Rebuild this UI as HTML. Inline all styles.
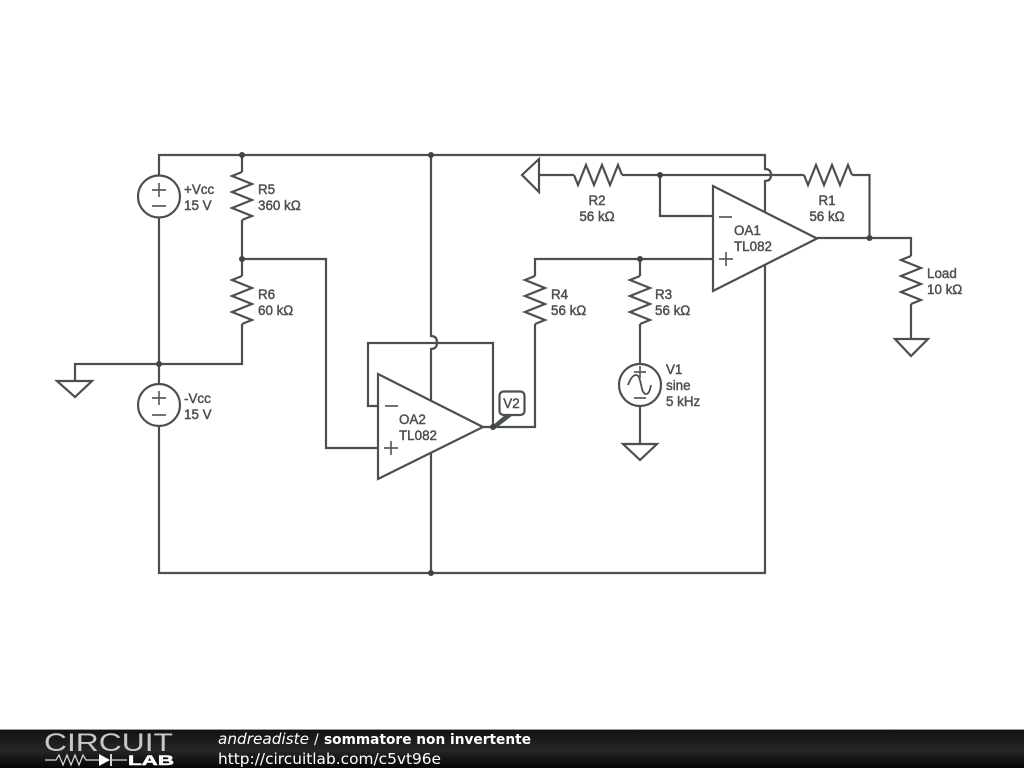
<!DOCTYPE html>
<html><head><meta charset="utf-8"><style>
html,body{margin:0;padding:0;background:#fff;width:1024px;height:768px;overflow:hidden}
svg{display:block}
.w{fill:none;stroke:#4a5050;stroke-width:2.200;stroke-linejoin:miter}
.s{fill:none;stroke:#556060;stroke-width:1.700}
.t{font-family:"Liberation Sans",sans-serif;font-size:13.400px;fill:#4a5050;stroke:#4a5050;stroke-width:.45}
.f{font-family:"DejaVu Sans",sans-serif;font-size:14px;fill:#fff}
</style></head><body>
<svg width="1024" height="768" viewBox="0 0 1024 768" xmlns="http://www.w3.org/2000/svg">
<defs><linearGradient id="g" x1="0" y1="0" x2="0" y2="1"><stop offset="0" stop-color="#111"/><stop offset=".55" stop-color="#262626"/><stop offset="1" stop-color="#050505"/></linearGradient></defs>
<rect width="1024" height="768" fill="#fff"/>
<g class="w">
<path d="M159 175V155H765V169Q771 169 771 175Q771 181 765 181V213M765 264V573H159V426"/>
<path d="M159 218V384M75 381V364H242V324M242 276V259H326V448H378M242 220V259M242 155V172"/>
<path d="M431 155V336Q437 336 437 342.500Q437 349 431 349V400M431 453V573"/>
<path d="M378 406H368V343H493V427M483 427H535V324M535 276V259H713M640 259V276M640 324V364M640 406V444"/>
<path d="M539 175H574M622 175H804M852 175H869.500V238M660 175V216H713M817 238H911V256M911 304V339"/>
<path d="M242 172L232 176L252 184L232 192L252 200L232 208L252 216L242 220"/>
<path d="M242 276L232 280L252 288L232 296L252 304L232 312L252 320L242 324"/>
<path d="M535 276L525 280L545 288L525 296L545 304L525 312L545 320L535 324"/>
<path d="M640 276L630 280L650 288L630 296L650 304L630 312L650 320L640 324"/>
<path d="M911 256L901 260L921 268L901 276L921 284L901 292L921 300L911 304"/>
<path d="M574 175L578 185L586 165L594 185L602 165L610 185L618 165L622 175"/>
<path d="M804 175L808 185L816 165L824 185L832 165L840 185L848 165L852 175"/>
<circle cx="159" cy="196.500" r="21" fill="#fff"/>
<circle cx="159" cy="405" r="21" fill="#fff"/>
<circle cx="640" cy="385" r="21" fill="#fff"/>
<path d="M378 374V479L483 427Z"/>
<path d="M713 186V291L817 238.500Z"/>
<path d="M57 381H92L75 397ZM623 444H657L640 460ZM895 339H928L911 356ZM539 159V192L522 175Z"/>
<path d="M628 385C631 377 634 375 636 375C642 375 640 394 646 394C649 394 650 390 651 385" stroke-width="1.800"/>
<rect x="499.500" y="391.500" width="25" height="23.500" rx="4" fill="#fff"/>
</g>
<path class="s" d="M159 183V197M152 190H166M152 206H166M159 391V405M152 398H166M152 415H166"/>
<path class="s" d="M385 406H398M391 441V455M384 448H398M719 217H732M726 252V266M719 259H733"/>
<path class="s" d="M634 372H646M640 366V378M634 398H646" stroke-width="1.300"/>
<path d="M492 426L505 415H513L495 429Z" fill="#4a5050"/>
<g fill="#3f4545">
<circle cx="242" cy="155" r="3"/><circle cx="431" cy="155" r="3"/><circle cx="242" cy="259" r="3"/>
<circle cx="159" cy="364" r="3"/><circle cx="431" cy="573" r="3"/><circle cx="660" cy="175" r="3"/>
<circle cx="640" cy="259" r="3"/><circle cx="869.500" cy="238" r="3"/><circle cx="493" cy="427" r="3"/>
</g>
<g class="t">
<text x="184" y="194">+Vcc</text><text x="184" y="210">15 V</text>
<text x="184" y="403">-Vcc</text><text x="184" y="419">15 V</text>
<text x="258" y="194">R5</text><text x="258" y="210">360 kΩ</text>
<text x="258" y="299">R6</text><text x="258" y="315">60 kΩ</text>
<text x="551" y="299">R4</text><text x="551" y="315">56 kΩ</text>
<text x="655" y="299">R3</text><text x="655" y="315">56 kΩ</text>
<text x="597" y="205" text-anchor="middle">R2</text><text x="597" y="221" text-anchor="middle">56 kΩ</text>
<text x="827" y="205" text-anchor="middle">R1</text><text x="827" y="221" text-anchor="middle">56 kΩ</text>
<text x="927" y="278">Load</text><text x="927" y="294">10 kΩ</text>
<text x="666" y="374">V1</text><text x="666" y="390">sine</text><text x="666" y="406">5 kHz</text>
<text x="399" y="424">OA2</text><text x="399" y="440">TL082</text>
<text x="734" y="235">OA1</text><text x="734" y="251">TL082</text>
<text x="511.500" y="408" text-anchor="middle">V2</text>
</g>
<rect x="0" y="729" width="1024" height="39" fill="url(#g)"/>
<rect x="0" y="729" width="1024" height="1" fill="#999"/>
<text x="44" y="751" font-family="'Liberation Sans',sans-serif" font-size="25" fill="#c8c8c8" textLength="129" lengthAdjust="spacingAndGlyphs">CIRCUIT</text>
<text x="128" y="765" font-family="'Liberation Sans',sans-serif" font-size="14" font-weight="bold" fill="#fff" stroke="#fff" stroke-width=".5" textLength="46" lengthAdjust="spacingAndGlyphs">LAB</text>
<path d="M45 760H56L59 755L63 765L67 755L71 765L75 755L79 765L83 755L86 760H99M112 760H127" fill="none" stroke="#ddd" stroke-width="1.200"/>
<path d="M99 754V766L110 760Z" fill="#fff"/><path d="M111 754V766" stroke="#fff" stroke-width="1.600"/>
<text class="f" x="218" y="744" font-style="italic" textLength="91" lengthAdjust="spacingAndGlyphs" style="font-size:15.300px">andreadiste</text>
<text class="f" x="314" y="744">/</text>
<text class="f" x="324" y="744" font-weight="bold" textLength="207" lengthAdjust="spacingAndGlyphs" style="font-size:14.300px">sommatore non invertente</text>
<text class="f" x="218" y="764" textLength="223" lengthAdjust="spacingAndGlyphs" style="font-size:15.300px">http://circuitlab.com/c5vt96e</text>
</svg>
</body></html>
